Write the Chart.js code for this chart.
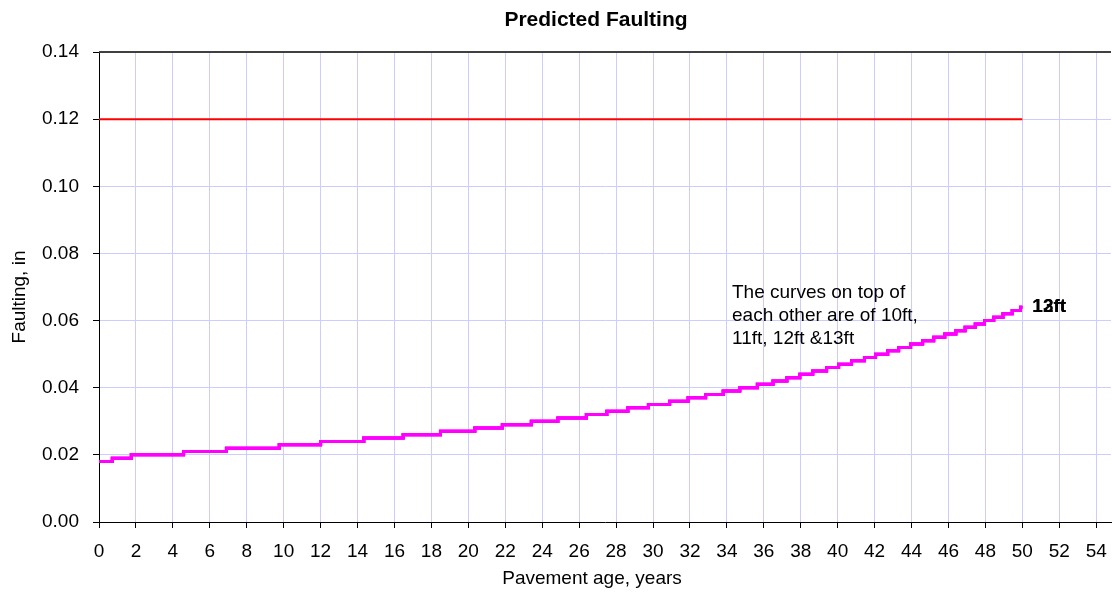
<!DOCTYPE html>
<html><head><meta charset="utf-8">
<script src="https://cdn.jsdelivr.net/npm/chart.js@4/dist/chart.umd.min.js"></script>
<style>html,body{margin:0;padding:0;background:#fff;overflow:hidden}#wrap{width:1112px;height:595px;position:relative}</style>
</head><body><div id="wrap"><canvas id="c" width="1112" height="595"></canvas></div>
<script>
const chartTitle = 'Predicted Faulting';
const xAxisTitle = 'Pavement age, years';
const yAxisTitle = 'Faulting, in';
const xTickValues = [0,2,4,6,8,10,12,14,16,18,20,22,24,26,28,30,32,34,36,38,40,42,44,46,48,50,52,54];
const yTickValues = [0,0.02,0.04,0.06,0.08,0.10,0.12,0.14];
// year at which faulting reaches each value (stepped curve)
const faultYears = [0,0.72,1.75,4.58,6.9,9.76,12.0,14.34,16.47,18.49,20.35,21.84,23.41,24.85,26.39,27.5,28.64,29.75,30.9,31.9,32.85,33.8,34.7,35.65,36.5,37.25,37.95,38.65,39.4,40.05,40.75,41.45,42.05,42.71,43.3,43.95,44.6,45.2,45.8,46.4,46.9,47.45,47.95,48.45,48.95,49.45,49.9,50];
const faultValues = [0.018,0.019,0.020,0.021,0.022,0.023,0.024,0.025,0.026,0.027,0.028,0.029,0.030,0.031,0.032,0.033,0.034,0.035,0.036,0.037,0.038,0.039,0.040,0.041,0.042,0.043,0.044,0.045,0.046,0.047,0.048,0.049,0.050,0.051,0.052,0.053,0.054,0.055,0.056,0.057,0.058,0.059,0.060,0.061,0.062,0.063,0.064,0.064];
const seriesNames = ['13ft','12ft','11ft','10ft'];
const endLabels = ['12ft','13ft'];
const limitYears = [0, 50];
const limitValues = [0.12, 0.12];
const noteLines = ['The curves on top of','each other are of 10ft,','11ft, 12ft &13ft'];

const FONT = '"Liberation Sans", Arial, sans-serif';
const pts = (xs, ys) => xs.map((x, i) => ({x, y: ys[i]}));

const datasets = seriesNames.map(name => ({
  label: name, data: pts(faultYears, faultValues), borderColor: '#ff00ff', borderWidth: 3,
  pointRadius: 0, stepped: true, fill: false
}));
datasets.push({label: 'limit', data: pts(limitYears, limitValues), borderColor: '#ff0000', borderWidth: 2, pointRadius: 0, fill: false});

const textPlugin = {
  id: 'texts',
  afterDraw(chart) {
    const ctx = chart.ctx, a = chart.chartArea, xs = chart.scales.x, ys = chart.scales.y;
    ctx.save();
    ctx.strokeStyle = '#404040'; ctx.lineWidth = 2;
    ctx.beginPath(); ctx.moveTo(a.left, a.top); ctx.lineTo(a.right, a.top); ctx.stroke();
    ctx.fillStyle = '#000';
    ctx.textBaseline = 'middle';
    ctx.textAlign = 'center';
    ctx.font = 'bold 21px ' + FONT;
    ctx.fillText(chartTitle, 596, 20);
    ctx.font = '19px ' + FONT;
    ctx.fillText(xAxisTitle, 592, 579);
    ctx.save(); ctx.translate(20, 297); ctx.rotate(-Math.PI/2); ctx.fillText(yAxisTitle, 0, 0); ctx.restore();
    ctx.textAlign = 'left';
    noteLines.forEach((t, i) => ctx.fillText(t, 732, 293 + i * 23));
    ctx.font = 'bold 19px ' + FONT;
    const lx = xs.getPixelForValue(faultYears[faultYears.length-1]) + 10;
    const ly = ys.getPixelForValue(faultValues[faultValues.length-1]);
    endLabels.forEach(t => ctx.fillText(t, lx, ly));
    ctx.restore();
  }
};

new Chart(document.getElementById('c'), {
  type: 'line',
  data: {datasets},
  options: {
    responsive: false, animation: false, devicePixelRatio: 1,
    layout: {padding: {top: 52, right: 1, left: 0, bottom: 0}},
    plugins: {legend: {display: false}, title: {display: false}, tooltip: {enabled: false}},
    scales: {
      x: {
        type: 'linear', min: 0, max: 54.8,
        afterBuildTicks: s => { s.ticks = xTickValues.map(v => ({value: v})); },
        afterFit: s => { s.height = 73; s.paddingLeft = 0; s.paddingRight = 0; },
        ticks: {font: {family: FONT, size: 19}, color: '#000', padding: 12, maxRotation: 0, autoSkip: false, callback: v => String(v)},
        grid: {color: '#ccccff', tickColor: '#000', tickLength: 6, lineWidth: 1},
        border: {color: '#000', width: 1}
      },
      y: {
        type: 'linear', min: 0, max: 0.14,
        afterBuildTicks: s => { s.ticks = yTickValues.map(v => ({value: v})); },
        afterFit: s => { s.width = 99; s.paddingTop = 0; s.paddingBottom = 0; },
        ticks: {font: {family: FONT, size: 19}, color: '#000', padding: 14, callback: v => Number(v).toFixed(2)},
        grid: {color: '#ccccff', tickColor: '#000', tickLength: 6, lineWidth: 1},
        border: {color: '#000', width: 1}
      }
    }
  },
  plugins: [textPlugin]
});
</script></body></html>
